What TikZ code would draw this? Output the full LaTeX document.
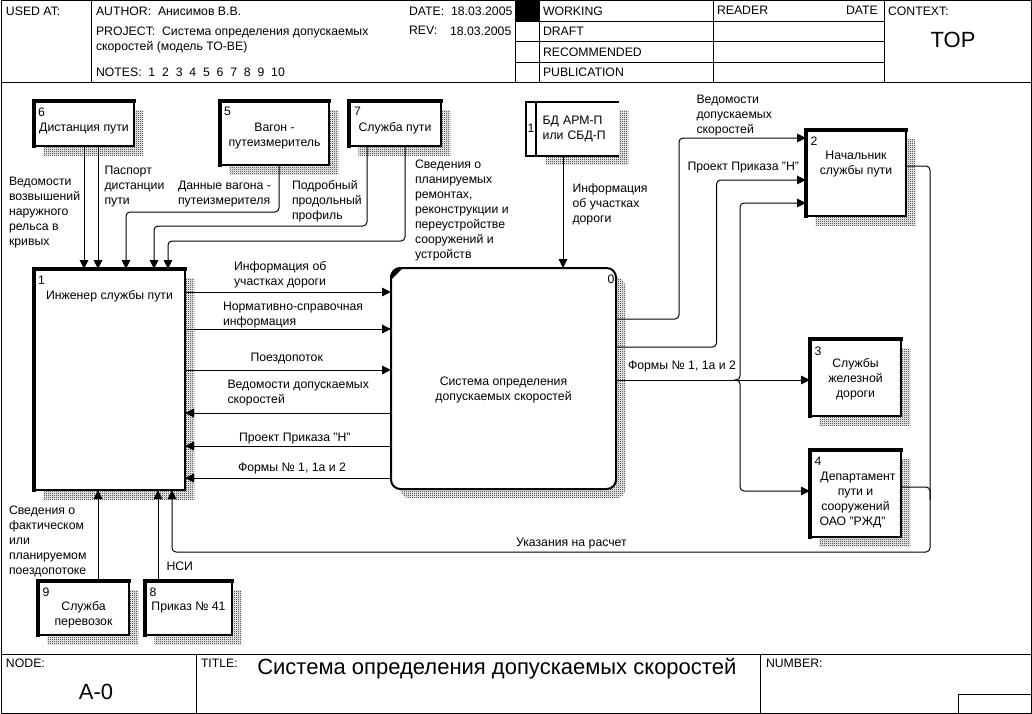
\documentclass[tikz,border=0pt]{standalone}
\usepackage{fontspec}
\setmainfont{Liberation Sans}
\usetikzlibrary{arrows.meta,shadows,patterns}
\newcommand{\lift}[2]{\raisebox{\dimexpr#1pt-3.75pt\relax}[0pt][0pt]{\begin{tabular}{@{}c@{}}#2\end{tabular}}}
\pgfdeclarepatternformonly{dither}{\pgfqpoint{0pt}{0pt}}{\pgfqpoint{1.5pt}{1.5pt}}{\pgfqpoint{1.5pt}{1.5pt}}{
  \pgfpathrectangle{\pgfqpoint{0pt}{0pt}}{\pgfqpoint{.75pt}{.75pt}}
  \pgfpathrectangle{\pgfqpoint{.75pt}{.75pt}}{\pgfqpoint{.75pt}{.75pt}}
  \pgfusepath{fill}}
\tikzset{
  small/.style={font=\fontsize{9.2}{11.25}\selectfont},
  big/.style={font=\fontsize{16.5}{20}\selectfont},
  sized/.style 2 args={minimum width=#1*0.75pt, minimum height=#2*0.75pt},
  hatched/.style={general shadow={shadow xshift=7pt, shadow yshift=-7pt, pattern=dither, pattern color=black}},
  bloc/.style={draw, fill=white, line width=1.5pt, inner sep=0, outer sep=0, small, hatched},
  heavy/.style={append after command={
    (\tikzlastnode.south west) edge[line width=2.6pt, line cap=rect] (\tikzlastnode.north west)
    (\tikzlastnode.north west) edge[line width=2.6pt, line cap=rect] (\tikzlastnode.north east)}},
  numlbl/.style={inner sep=0, outer sep=0, small, anchor=north west},
  flowlbl/.style={inner sep=0, outer sep=0, small, anchor=north west, align=left},
  headlbl/.style={inner sep=0, outer sep=0, small, anchor=north west, align=left},
  frameline/.style={line width=.75pt},
  flow/.style={line width=.75pt, rounded corners=3pt, -{Triangle[length=6.75pt,width=6.5pt]}},
  wire/.style={line width=.75pt, rounded corners=3pt}
}
\begin{document}
\begin{tikzpicture}[x=0.75pt,y=-0.75pt]
  \useasboundingbox (0,0) rectangle (1032,714);
  % Form frame
  \draw[frameline] (1,0.5) rectangle (1031,713);
  \draw[frameline] (1,82) -- (1031,82);
  \draw[frameline] (1,654.5) -- (1031,654.5);
  \draw[frameline] (91,0) -- (91,82);
  \draw[frameline] (515,0) -- (515,82);
  \draw[frameline] (539,0) -- (539,82);
  \draw[frameline] (713,0) -- (713,82);
  \draw[frameline] (884,0) -- (884,82);
  \foreach \y in {21,41,62} {
    \draw[frameline] (515,\y) -- (884,\y);
  }
  \fill (515,0) rectangle (539,21);
  \draw[frameline] (196,654.5) -- (196,713);
  \draw[frameline] (760,654.5) -- (760,713);
  \draw[frameline] (958,713) -- (958,694) -- (1031,694);
  % Form texts
  \node[headlbl] (usedat) at (6,6.5) {USED AT:};
  \node[headlbl] (author) at (96,6.5) {AUTHOR:\ \ Анисимов В.В.};
  \node[headlbl] (date) at (409,6.5) {DATE:\ \ 18.03.2005};
  \node[headlbl] (project) at (96,26.5) {PROJECT:\ \ Система определения допускаемых\\скоростей (модель ТО-ВЕ)};
  \node[headlbl] (rev) at (409,26.5) {REV:};
  \node[headlbl] (revdate) at (450,26.5) {18.03.2005};
  \node[headlbl] (notes) at (96,67.5) {NOTES:\ \ 1\ \ 2\ \ 3\ \ 4\ \ 5\ \ 6\ \ 7\ \ 8\ \ 9\ \ 10};
  \node[headlbl] (working) at (543,6.5) {WORKING};
  \node[headlbl] (draft) at (543,27) {DRAFT};
  \node[headlbl] (recomm) at (543,47.5) {RECOMMENDED};
  \node[headlbl] (public) at (543,67.5) {PUBLICATION};
  \node[headlbl] (reader) at (717,6.5) {READER};
  \node[headlbl] (rdate) at (846,6.5) {DATE};
  \node[headlbl] (context) at (888,6.5) {CONTEXT:};
  \node[big, inner sep=0] (top) at (953,40) {TOP};
  \node[headlbl] (nodelbl) at (6,659) {NODE:};
  \node[big, inner sep=0] (nodeno) at (96,692) {A-0};
  \node[headlbl] (titlelbl) at (201,659) {TITLE:};
  \node[big, inner sep=0, anchor=west] (title) at (257,669) {Система определения допускаемых скоростей};
  \node[headlbl] (numberlbl) at (766,659) {NUMBER:};
  % Activity boxes
  \node[bloc, heavy, sized={100}{45}] (dist) at (84,123.5) {\lift{-2.4}{Дистанция пути}};
  \node[bloc, heavy, sized={109}{64}] (vagon) at (274.5,133) {\lift{-.75}{Вагон -\\путеизмеритель}};
  \node[bloc, heavy, sized={92}{45}] (sluzhba) at (395,123.5) {\lift{-2.6}{Служба пути}};
  \node[bloc, heavy, sized={151}{221}] (inzh) at (109.5,379.5) {\lift{63.4}{Инженер службы пути}};
  \node[bloc, rounded corners=7pt, sized={225}{221}] (sys) at (503.5,378.5) {\lift{-7.1}{Система определения\\допускаемых скоростей}};
  \node[bloc, heavy, sized={100}{86}] (nach) at (856,173) {\lift{8.25}{Начальник\\службы пути}};
  \node[bloc, heavy, sized={91}{77}] (zhel) at (855.5,377.5) {\lift{0}{Службы\\железной\\дороги}};
  \node[bloc, heavy, sized={91}{87}] (dep) at (855.5,493.5) {\lift{-3.4}{\hspace*{3.75pt}Департамент\\пути и\\сооружений\\ОАО "РЖД"\hspace*{4.5pt}}};
  \node[bloc, heavy, sized={91}{54}] (perev) at (83.5,608) {\lift{-3.75}{Служба\\перевозок}};
  \node[bloc, heavy, sized={87}{54}] (prikaz) at (188.5,608) {\lift{1.7}{Приказ № 41}};
  \node[bloc, draw=none, sized={83}{54}, inner xsep=5pt, text width=52.25pt, align=left] (bd) at (577.5,128.5) {БД АРМ-П\\или СБД-П};
  \node[inner sep=0, outer sep=0, small, draw, line width=1.5pt, fill=white, sized={10}{54}] (bdnum) at (531,128.5) {1};
  \draw[line width=1.5pt] (bdnum.north east) -- (bd.north east);
  \draw[line width=1.5pt] (bdnum.south east) -- (bd.south east);
  \draw[line width=2.6pt] ([yshift=-7pt]sys.north west) -- ([xshift=7pt]sys.north west);
  % Box numbers
  \node[numlbl] (n6) at (38,107.5) {6};
  \node[numlbl] (n5) at (224,107.5) {5};
  \node[numlbl] (n7) at (354,107.5) {7};
  \node[numlbl] (n1) at (38,276.5) {1};
  \node[numlbl, anchor=north east] (n0) at (614.5,275) {0};
  \node[numlbl] (n2) at (810.5,137) {2};
  \node[numlbl] (n3) at (814.5,346.5) {3};
  \node[numlbl] (n4) at (814.5,457) {4};
  \node[numlbl] (n9) at (42.5,587.5) {9};
  \node[numlbl] (n8) at (149.5,587.5) {8};
  % Connectors
  \draw[flow] (dist.south -| 84,0) -- (inzh.north -| 84,0);
  \draw[flow] (dist.south -| 98,0) -- (inzh.north -| 98,0);
  \draw[flow] (vagon.south -| 279,0) -- (279,212) -- (126,212) -- (inzh.north -| 126,0);
  \draw[flow] (sluzhba.south -| 367,0) -- (367,226) -- (154,226) -- (inzh.north -| 154,0);
  \draw[flow] (sluzhba.south -| 405,0) -- (405,241) -- (168,241) -- (inzh.north -| 168,0);
  \draw[flow] (perev.north -| 98,0) -- (inzh.south -| 98,0);
  \draw[flow] (prikaz.north -| 158,0) -- (inzh.south -| 158,0);
  \draw[flow] (nach.east |- 0,166) -- (930,166) -- (930,552) -- (172,552) -- (inzh.south -| 172,0);
  \draw[wire] (dep.east |- 0,487) -- (930,487) -- (930,500);
  \draw[flow] (inzh.east |- 0,292) -- (sys.west |- 0,292);
  \draw[flow] (inzh.east |- 0,329) -- (sys.west |- 0,329);
  \draw[flow] (inzh.east |- 0,370) -- (sys.west |- 0,370);
  \draw[flow] (sys.west |- 0,413) -- (inzh.east |- 0,413);
  \draw[flow] (sys.west |- 0,446) -- (inzh.east |- 0,446);
  \draw[flow] (sys.west |- 0,478) -- (inzh.east |- 0,478);
  \draw[flow] (bd.south -| 563,0) -- (sys.north -| 563,0);
  \draw[flow] (sys.east |- 0,319) -- (679,319) -- (679,138) -- (nach.west |- 0,138);
  \draw[flow] (sys.east |- 0,347) -- (716.5,347) -- (716.5,180) -- (nach.west |- 0,180);
  \draw[flow] (sys.east |- 0,380) -- (zhel.west |- 0,380);
  \coordinate (split) at (734,380);
  \draw[flow] (split) -- (740,380) -- (740,203) -- (nach.west |- 0,203);
  \draw[flow] (split) -- (740,380) -- (740,491) -- (dep.west |- 0,491);
  % Connector labels
  \node[flowlbl] (lbved) at (9,177) {Ведомости\\возвышений\\наружного\\рельса в\\кривых};
  \node[flowlbl] (lbpas) at (104.5,166) {Паспорт\\дистанции\\пути};
  \node[flowlbl] (lbdan) at (178,181) {Данные вагона -\\путеизмерителя};
  \node[flowlbl] (lbpod) at (292,180) {Подробный\\продольный\\профиль};
  \node[flowlbl] (lbsved) at (415,160) {Сведения о\\планируемых\\ремонтах,\\реконструкции и\\переустройстве\\сооружений и\\устройств};
  \node[flowlbl] (lbinf) at (234,261) {Информация об\\участках дороги};
  \node[flowlbl] (lbnorm) at (223,302.5) {Нормативно-справочная\\информация};
  \node[flowlbl] (lbpoezd) at (250.5,353) {Поездопоток};
  \node[flowlbl] (lbvd) at (227.5,380) {Ведомости допускаемых\\скоростей};
  \node[flowlbl] (lbpr) at (239,433) {Проект Приказа "Н"};
  \node[flowlbl] (lbfm) at (238,463) {Формы № 1, 1а и 2};
  \node[flowlbl] (lbbd) at (572.5,183.5) {Информация\\об участках\\дороги};
  \node[flowlbl] (lbvd2) at (696.5,95) {Ведомости\\допускаемых\\скоростей};
  \node[flowlbl] (lbpr2) at (687.5,162.5) {Проект Приказа "Н"};
  \node[flowlbl] (lbfm2) at (628,361) {Формы № 1, 1а и 2};
  \node[flowlbl] (lbuk) at (516,538) {Указания на расчет};
  \node[flowlbl] (lbsv) at (9,506) {Сведения о\\фактическом\\или\\планируемом\\поездопотоке};
  \node[flowlbl] (lbnsi) at (166.5,562) {НСИ};
\end{tikzpicture}
\end{document}
